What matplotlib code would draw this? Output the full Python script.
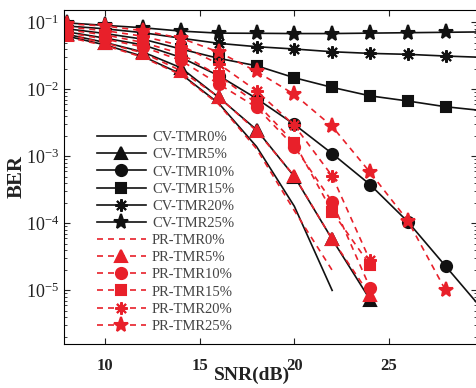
import numpy as np
import matplotlib
matplotlib.use('Agg')
import matplotlib.pyplot as plt

plt.rcParams['font.family'] = ['Liberation Serif', 'DejaVu Serif']
plt.rcParams['mathtext.fontset'] = 'custom'
plt.rcParams['mathtext.rm'] = 'Liberation Serif:bold'
plt.rcParams['mathtext.it'] = 'Liberation Serif:bold'
plt.rcParams['mathtext.bf'] = 'Liberation Serif:bold'

# -- data

snr = [8, 10, 12, 14, 16, 18, 20, 22, 24, 26, 28, 30]

cv_labels = ['CV-TMR0%', 'CV-TMR5%', 'CV-TMR10%', 'CV-TMR15%', 'CV-TMR20%', 'CV-TMR25%']
pr_labels = ['PR-TMR0%', 'PR-TMR5%', 'PR-TMR10%', 'PR-TMR15%', 'PR-TMR20%', 'PR-TMR25%']

cv_tmr0 = [0.062, 0.046, 0.031, 0.017, 0.0062, 0.0014, 1.8e-4, 1.0e-5]
cv_tmr5 = [0.066, 0.050, 0.036, 0.021, 0.0076, 0.0025, 5.0e-4, 5.8e-5, 7.3e-6]
cv_tmr10 = [0.072, 0.058, 0.046, 0.030, 0.016, 0.0073, 0.0030, 0.0011, 3.8e-4, 1.06e-4, 2.3e-5, 5.0e-6]
cv_tmr15 = [0.080, 0.068, 0.056, 0.040, 0.029, 0.0225, 0.0149, 0.0107, 0.0080, 0.0067, 0.0055, 0.0048]
cv_tmr20 = [0.088, 0.080, 0.070, 0.058, 0.0486, 0.0433, 0.040, 0.0364, 0.0344, 0.0333, 0.0314, 0.030]
cv_tmr25 = [0.098, 0.090, 0.083, 0.074, 0.069, 0.0686, 0.068, 0.068, 0.069, 0.070, 0.071, 0.072]

pr_tmr0 = [0.060, 0.045, 0.030, 0.0165, 0.0060, 0.0013, 1.55e-4, 2.0e-5]
pr_tmr5 = [0.065, 0.049, 0.035, 0.019, 0.0077, 0.0024, 5.1e-4, 5.8e-5, 8.5e-6]
pr_tmr10 = [0.070, 0.056, 0.043, 0.027, 0.012, 0.0054, 0.0014, 2.1e-4, 1.1e-5]
pr_tmr15 = [0.077, 0.065, 0.050, 0.034, 0.016, 0.0062, 0.0016, 1.5e-4, 2.4e-5]
pr_tmr20 = [0.085, 0.075, 0.062, 0.045, 0.024, 0.0095, 0.0029, 5.1e-4, 2.8e-5]
pr_tmr25 = [0.095, 0.088, 0.075, 0.058, 0.036, 0.0185, 0.0084, 0.0028, 5.8e-4, 1.1e-4, 1.0e-5]

cv_series = [cv_tmr0, cv_tmr5, cv_tmr10, cv_tmr15, cv_tmr20, cv_tmr25]
pr_series = [pr_tmr0, pr_tmr5, pr_tmr10, pr_tmr15, pr_tmr20, pr_tmr25]

markers = [None, '^', 'o', 's', (8, 2, 0), '*']
msizes = [0, 8, 8, 7, 9, 11]

black = '#111111'
red = '#e8202a'

# -- setup plot

fig = plt.figure(figsize=(4.76, 3.88), dpi=100)
ax = fig.add_axes([64/476, 44/388, 413/476, 334/388])

for vals, lab, m, ms in zip(cv_series, cv_labels, markers, msizes):
    ax.plot(snr[:len(vals)], vals, color=black, lw=1.2, marker=m, ms=ms,
            mfc=black, mec=black, mew=1.5, label=lab)

for vals, lab, m, ms in zip(pr_series, pr_labels, markers, msizes):
    ax.plot(snr[:len(vals)], vals, color=red, lw=1.2, ls=(0, (3.6, 3)), marker=m, ms=ms,
            mfc=red, mec=red, mew=1.5, label=lab)

ax.set_yscale('log')
ax.set_xlim(7.82, 29.66)
ax.set_ylim(10**-5.80, 10**-0.816)
ax.set_xticks([10, 15, 20, 25])

ax.tick_params(which='both', direction='in', top=True, right=True, colors='#222222')
ax.tick_params(which='major', length=4, labelsize=12)
ax.tick_params(which='minor', length=2.5)
ax.tick_params(axis='y', labelsize=13)
ax.tick_params(axis='x', pad=10)
for lbl in ax.get_xticklabels():
    lbl.set_fontweight('bold')

ax.set_xlabel('SNR(dB)', fontsize=14, fontweight='bold', color='#222222')
ax.xaxis.set_label_coords((252-64)/413, -(367-344)/334)
ax.set_ylabel('BER', fontsize=15, fontweight='bold', color='#222222')
ax.yaxis.set_label_coords(-(64-27)/413, 0.5)

leg = ax.legend(loc='upper left', bbox_to_anchor=(0.065, 0.655), frameon=False,
                fontsize=10.5, handlelength=3.4, handletextpad=0.4,
                labelspacing=0.27, borderaxespad=0)
for t in leg.get_texts():
    t.set_color('#444444')

fig.savefig('out.png', dpi=100)
